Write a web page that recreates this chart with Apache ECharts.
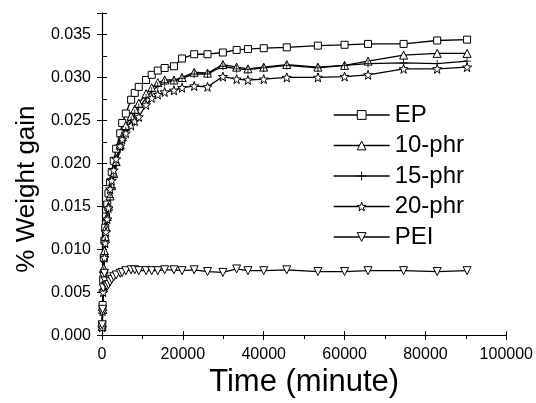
<!DOCTYPE html>
<html><head><meta charset="utf-8">
<script src="https://cdn.jsdelivr.net/npm/echarts@6/dist/echarts.min.js"></script>
<style>html,body{margin:0;padding:0;background:#fff}#c{width:536px;height:403px}</style>
</head><body><div id="c"></div>
<script>
var times = [50,150,300,450,600,800,1000,1300,1600,2000,2400,2900,3500,4500,5000,5900,7200,8100,9100,10900,12300,13800,15500,17800,19800,22800,26100,29900,33300,36100,40000,45700,53400,60000,65800,74600,82900,90300];
var ep = [0.0012,0.0035,0.0065,0.009,0.011,0.0125,0.0138,0.0152,0.0165,0.0178,0.019,0.0203,0.0217,0.0235,0.0247,0.0258,0.0274,0.0282,0.0289,0.0297,0.0303,0.0308,0.0311,0.0313,0.0322,0.0327,0.0327,0.0329,0.0332,0.0333,0.0334,0.0335,0.0337,0.0338,0.0339,0.0339,0.0343,0.0344];
var phr10 = [0.001,0.003,0.0055,0.0078,0.0098,0.0115,0.0125,0.0138,0.015,0.0162,0.0174,0.0188,0.0202,0.0222,0.0231,0.0244,0.0255,0.0263,0.027,0.0281,0.0288,0.0294,0.0297,0.0297,0.03,0.0306,0.0305,0.0315,0.0312,0.031,0.0312,0.0315,0.0312,0.0314,0.0319,0.0326,0.0328,0.0328];
var phr15 = [0.0009,0.0029,0.0053,0.0075,0.0094,0.011,0.0122,0.0136,0.0148,0.016,0.0172,0.0185,0.0198,0.0216,0.0226,0.0238,0.025,0.0258,0.0265,0.0276,0.0284,0.029,0.0294,0.0296,0.0299,0.0304,0.0304,0.0313,0.031,0.0309,0.0311,0.0314,0.0311,0.0314,0.0316,0.0317,0.0316,0.0319];
var phr20 = [0.0009,0.0028,0.005,0.0072,0.009,0.0107,0.012,0.0135,0.0148,0.017,0.018,0.0192,0.0205,0.022,0.0228,0.0235,0.0244,0.0249,0.0254,0.0268,0.0276,0.028,0.0283,0.0285,0.0288,0.029,0.0289,0.0301,0.0298,0.0297,0.0298,0.03,0.03,0.0301,0.0303,0.031,0.031,0.0312];
var pei = [0.0012,0.003,0.0055,0.0068,0.0072,0.0063,0.0058,0.0057,0.0059,0.0062,0.0065,0.0068,0.007,0.0072,0.0073,0.0075,0.0076,0.0076,0.0075,0.0075,0.0075,0.0075,0.0076,0.0076,0.0075,0.0076,0.0074,0.0073,0.0077,0.0075,0.0075,0.0076,0.0074,0.0074,0.0075,0.0075,0.0074,0.0075];
var seriesNames = ['EP','10-phr','15-phr','20-phr','PEI'];
var xTitle = 'Time (minute)';
var yTitle = '% Weight gain';

function pairs(vals){ return times.map(function(t,i){ return [t, vals[i]]; }); }
var FONT = 'Liberation Sans, Arial, sans-serif';
var symbols = {
  'EP': {symbol:'rect', size:7},
  '10-phr': {symbol:'triangle', size:8},
  '15-phr': {symbol:'path://M4.5,0 H5.5 V4.5 H10 V5.5 H5.5 V10 H4.5 V5.5 H0 V4.5 H4.5 Z', size:8, fill:'#000'},
  '20-phr': {symbol:'path://M5,0 L6.2,3.4 L9.8,3.5 L6.9,5.7 L7.9,9.2 L5,7.1 L2.1,9.2 L3.1,5.7 L0.2,3.5 L3.8,3.4 Z', size:9},
  'PEI': {symbol:'path://M0,0 L10,0 L5,9 Z', size:8}
};
var dataMap = {'EP':ep,'10-phr':phr10,'15-phr':phr15,'20-phr':phr20,'PEI':pei};
function styleOf(n){
  var s = symbols[n];
  return {color: s.fill || '#fff', borderColor:'#000', borderWidth: s.fill ? 0 : 1};
}
var series = seriesNames.map(function(n){
  var s = symbols[n];
  return {
    name:n, type:'line', data:pairs(dataMap[n]), xAxisIndex:0, yAxisIndex:0,
    symbol:s.symbol, symbolSize:s.size, showAllSymbol:true,
    lineStyle:{color:'#000', width:1.3},
    itemStyle:styleOf(n),
    emphasis:{disabled:true}, animation:false
  };
});
var legendData = seriesNames.map(function(n){
  return {name:n, itemStyle:styleOf(n), lineStyle:{color:'#000', width:1.3}};
});
var chart = echarts.init(document.getElementById('c'));
chart.setOption({
  animation:false,
  backgroundColor:'#fff',
  grid:{left:102, right:29, top:13, bottom:57},
  legend:{
    orient:'vertical', left:328, top:95, itemWidth:56, itemHeight:11, itemGap:0.5,
    data:legendData,
    textStyle:{fontFamily:FONT, fontSize:24, color:'#000', lineHeight:30},
    inactiveColor:'#000'
  },
  xAxis:[{
    type:'value', min:0, max:100000, interval:20000,
    name:xTitle, nameLocation:'middle', nameGap:19,
    nameTextStyle:{fontFamily:FONT, fontSize:31, color:'#000'},
    axisLine:{show:true, lineStyle:{color:'#000', width:1.2}},
    axisTick:{show:true, inside:false, length:5, lineStyle:{color:'#000'}},
    minorTick:{show:true, splitNumber:2, length:4, lineStyle:{color:'#000'}},
    axisLabel:{fontFamily:FONT, fontSize:16, color:'#000', margin:11,
      formatter:function(v){ return String(v); }},
    splitLine:{show:false}
  },{
    type:'value', min:0, max:100000, interval:20000, position:'bottom',
    axisLine:{show:false}, axisLabel:{show:false},
    axisTick:{show:true, inside:true, length:4, lineStyle:{color:'#000'}},
    splitLine:{show:false}
  }],
  yAxis:[{
    type:'value', min:0, max:0.0375, interval:0.005,
    name:yTitle, nameLocation:'middle', nameGap:62, nameRotate:90,
    nameTextStyle:{fontFamily:FONT, fontSize:26, color:'#000', padding:[0,30,0,0]},
    axisLine:{show:true, lineStyle:{color:'#000', width:1.2}},
    axisTick:{show:true, inside:false, length:5, lineStyle:{color:'#000'}},
    axisLabel:{fontFamily:FONT, fontSize:16, color:'#000', margin:11,
      formatter:function(v){ return v > 0.0351 ? '' : v.toFixed(3); }},
    splitLine:{show:false}
  },{
    type:'value', min:0, max:0.0375, interval:0.005, position:'left',
    axisLine:{show:false}, axisLabel:{show:false},
    axisTick:{show:true, inside:true, length:5, lineStyle:{color:'#000'}},
    minorTick:{show:true, splitNumber:2, length:5, lineStyle:{color:'#000'}},
    splitLine:{show:false}
  }],
  series:series
});
</script>
</body></html>
